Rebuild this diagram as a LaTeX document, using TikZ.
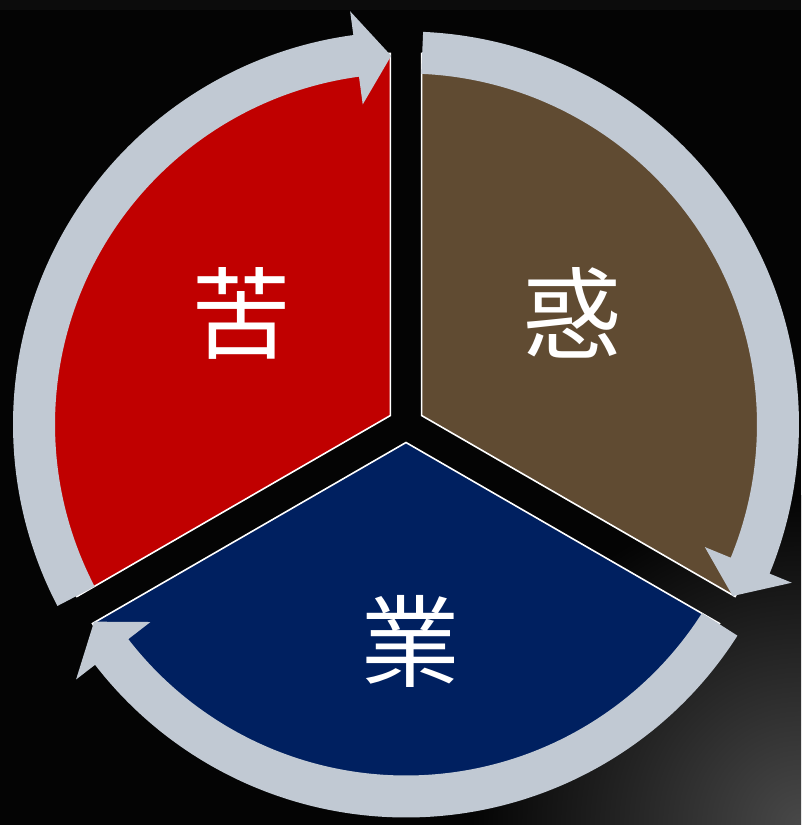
\documentclass[tikz,border=0pt]{standalone}
\usepackage{fontspec}
\newfontfamily\cjk{Noto Sans CJK TC}
\usetikzlibrary{calc}
\definecolor{kured}{HTML}{C00000}
\definecolor{wakubrown}{HTML}{604B32}
\definecolor{goublue}{HTML}{002060}
\definecolor{ringgrey}{HTML}{C1C9D3}
\definecolor{bgblack}{HTML}{040404}
\definecolor{bgtop}{HTML}{0C0C0C}
\definecolor{glow}{HTML}{484848}
% sector from its vertex: \sector[style](vertex)(start:end:radius)
\def\sector[#1](#2)(#3:#4:#5){\draw[#1] (#2) -- ($(#2)+(#3:#5)$) arc (#3:#4:#5) -- cycle;}
% clockwise ring arrow: \ringarrow[style](start:back of head:tip)
\def\ringarrow[#1](#2:#3:#4){\fill[#1] (#2:393) arc (#2:#3:393) -- (#3:417) -- (#4:369) -- (#3:323) -- (#3:351) arc (#3:#2:351) -- cycle;}

\begin{document}
\begin{tikzpicture}[x=1pt, y=1pt,
		kanji/.style={text=white, inner sep=0pt, font=\cjk\fontsize{100}{100}\selectfont}]
		%%%%% START %%%%%
		\useasboundingbox (-406,-400.5) rectangle (395,424.5);
		
		\fill[bgblack] (-406,-400.5) rectangle (395,424.5);
		\fill[bgtop] (-406,414.5) rectangle (395,424.5);
		\begin{scope}
			\clip (-406,-400.5) rectangle (395,424.5);
			\shade[inner color=glow, outer color=bgblack] (395,-400.5) circle (330);
		\end{scope}
		
		\sector[fill=kured, draw=white, line width=1.6pt](150:18)(90:210:362);
		\sector[fill=wakubrown, draw=white, line width=1.6pt](30:18)(-30:90:362);
		\sector[fill=goublue, draw=white, line width=1.6pt](270:18)(210:330:362);
		
		\ringarrow[ringgrey](207.5:97.7:92.3);
		\ringarrow[ringgrey](87.5:-22.3:-27.7);
		\ringarrow[ringgrey](-32.5:-142.3:-147.7);
		
		\node[kanji] (ku) at (-164,111) {苦};
		\node[kanji] (waku) at (166.5,112) {惑};
		\node[kanji] (gou) at (4.5,-217) {業};
		
		%%%%% END %%%%%
	\end{tikzpicture}
\end{document}
